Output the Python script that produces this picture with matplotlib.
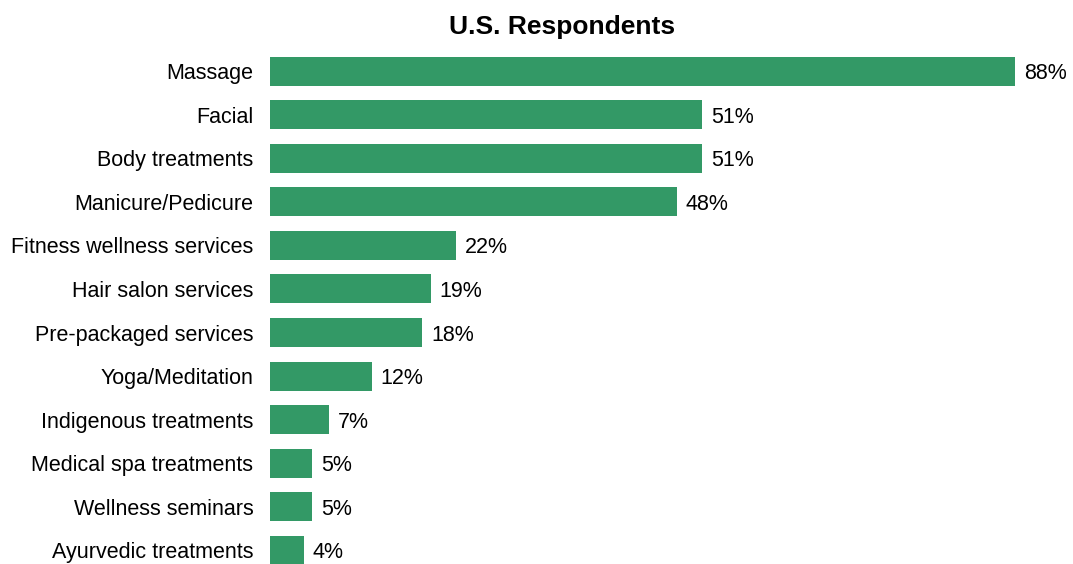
import matplotlib.pyplot as plt

plt.rcParams['font.family'] = ['Liberation Sans', 'DejaVu Sans']

services = ["Massage", "Facial", "Body treatments", "Manicure/Pedicure",
            "Fitness wellness services", "Hair salon services",
            "Pre-packaged services", "Yoga/Meditation", "Indigenous treatments",
            "Medical spa treatments", "Wellness seminars", "Ayurvedic treatments"]
shares = [88, 51, 51, 48, 22, 19, 18, 12, 7, 5, 5, 4]

W, H = 1073, 564
fig = plt.figure(figsize=(W / 100, H / 100), dpi=100)
# axes placed in pixel terms: bars start at x=270, plot area runs to the right edge
ax = fig.add_axes([270 / W, 0, 1 - 270 / W, (H - 49) / H])

pos = list(range(len(services)))
ax.barh(pos, shares, height=0.665, color="#339966")
for y, v in zip(pos, shares):
    ax.text(v + 1.05, y, f"{v}%", va="center_baseline", ha="left", fontsize=15.5)

ax.set_xlim(0, 94.8)
ax.set_ylim(11.31, -0.505)
ax.set_yticks(pos)
ax.set_yticklabels(services, fontsize=15.5, va="center_baseline")
ax.tick_params(axis="y", length=0, pad=12)
ax.set_xticks([])
for s in ax.spines.values():
    s.set_visible(False)

fig.text(562 / W, 1 - 27 / H, "U.S. Respondents", ha="center", va="center",
         fontsize=19, fontweight="bold")

fig.savefig("out.png", dpi=100)
